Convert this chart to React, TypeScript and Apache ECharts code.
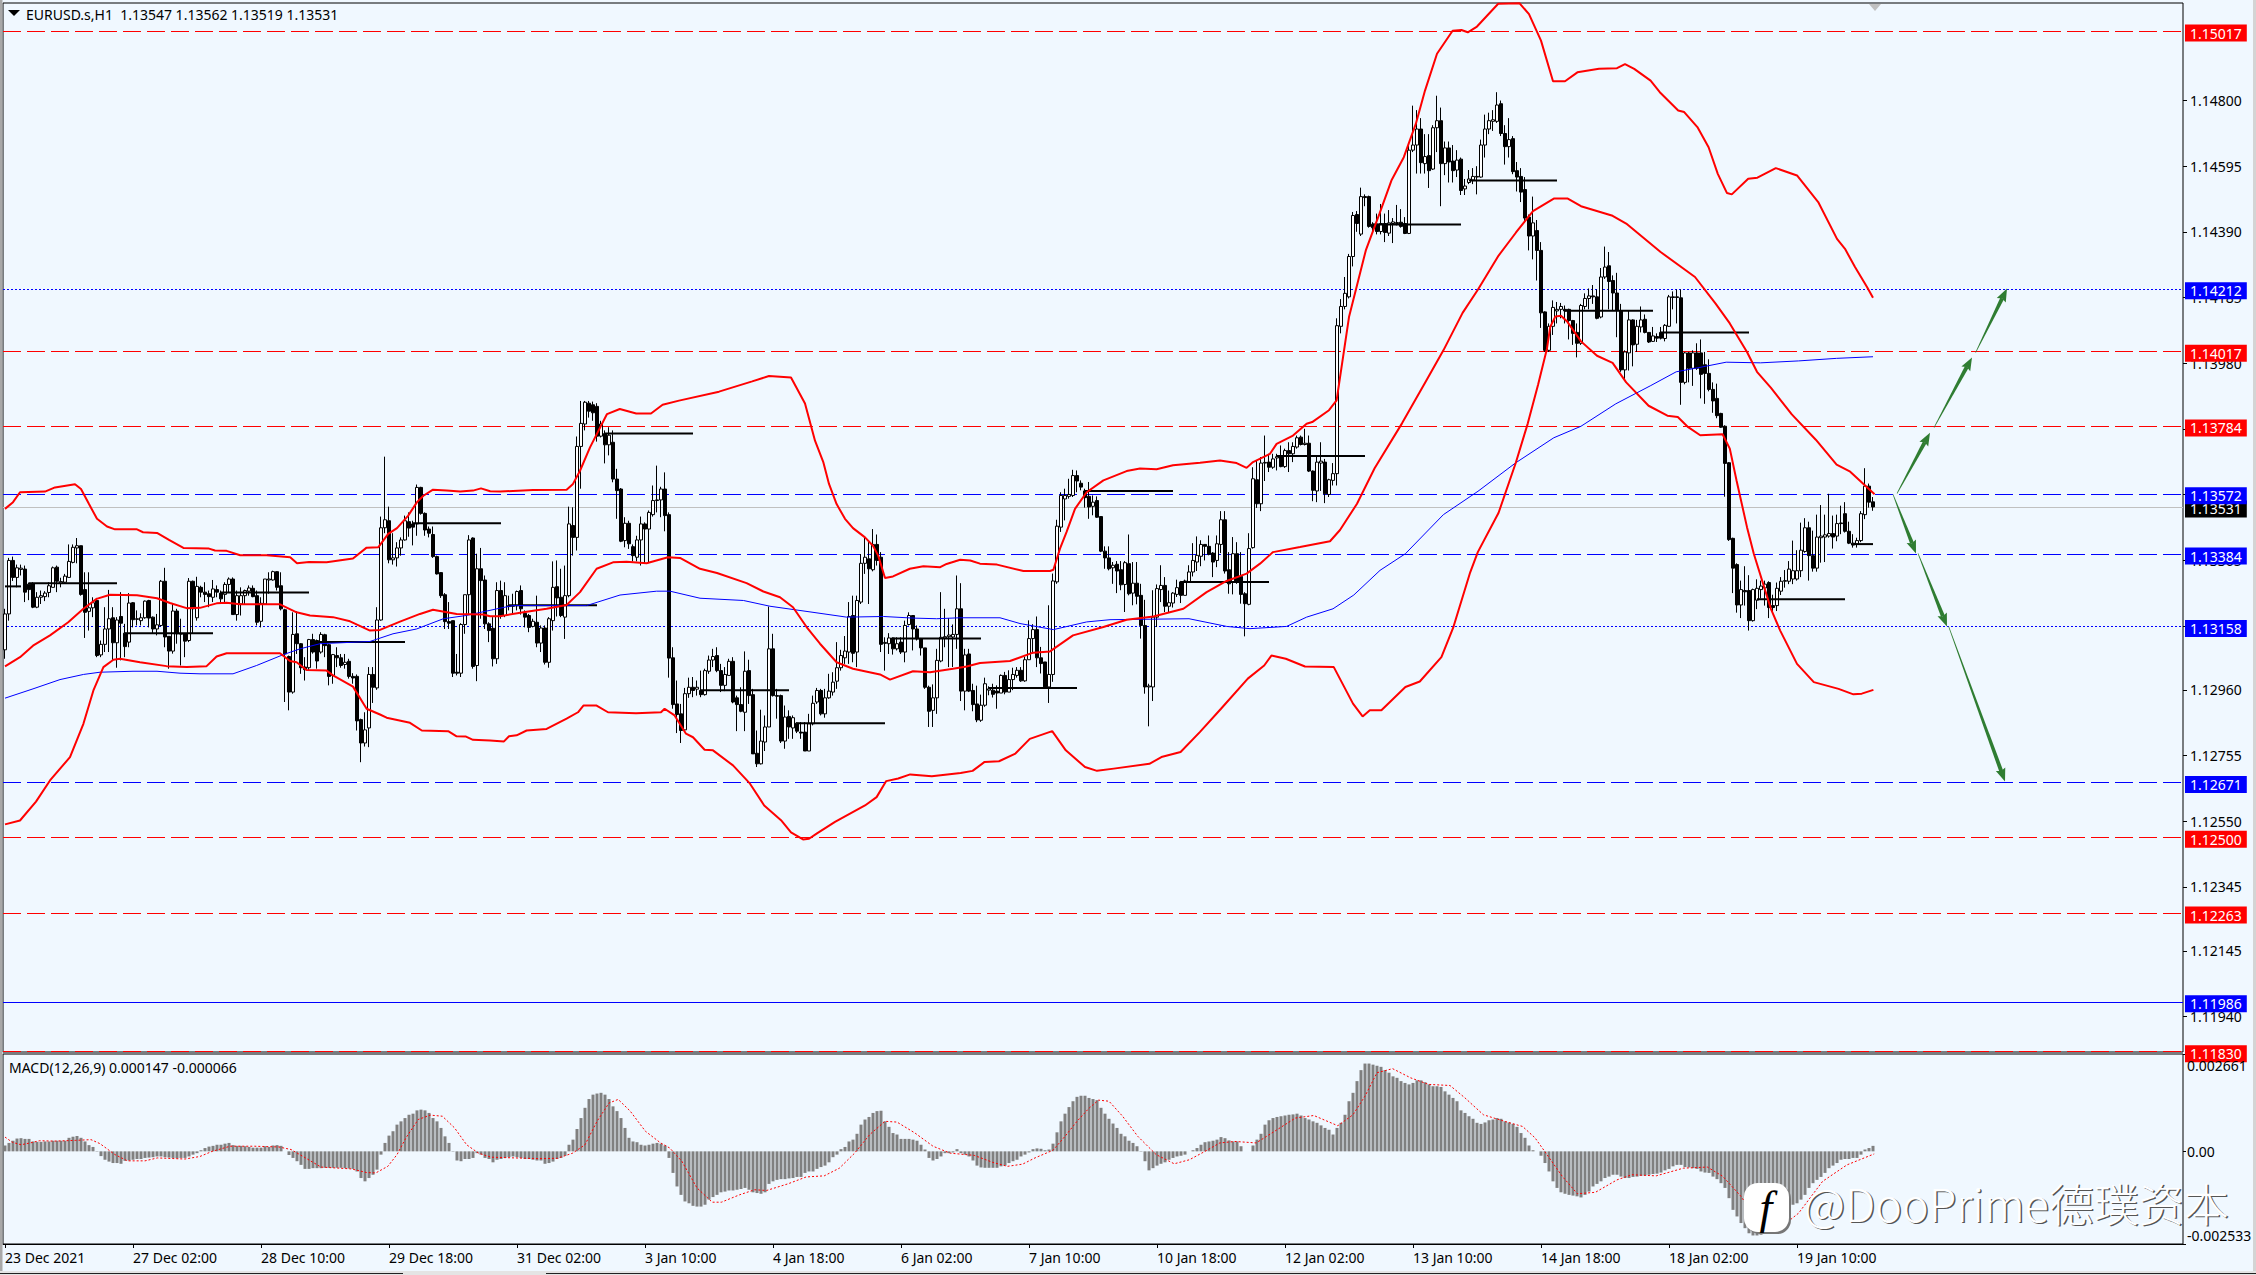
import React, { useEffect, useRef } from "react";
import * as echarts from "echarts";

const FONT = "Noto Sans";
const BG = "#F0F8FF";
const BASE = 1.1;
const UNIT = 0.00001;

const xTickLabels = ["23 Dec 2021","27 Dec 02:00","28 Dec 10:00","29 Dec 18:00","31 Dec 02:00","3 Jan 10:00","4 Jan 18:00","6 Jan 02:00","7 Jan 10:00","10 Jan 18:00","12 Jan 02:00","13 Jan 10:00","14 Jan 18:00","18 Jan 02:00","19 Jan 10:00"];
const priceTicks = [1.148,1.14595,1.1439,1.14185,1.1398,1.13775,1.1357,1.13365,1.1316,1.1296,1.12755,1.1255,1.12345,1.12145,1.1194];
const macdTicks = [0.002661,0,-0.002533];
const priceMin = 1.118292;
const priceMax = 1.151045;

// [open, close, low, high], in points above 1.10000
const candles = [
[3085,3197,3057,3213],[3197,3364,3176,3372],[3364,3311,3300,3376],[3311,3341,3280,3351],[3336,3340,3317,3351],[3337,3265,3234,3348],[3290,3273,3240,3295],[3291,3218,3215,3296],[3218,3249,3215,3265],[3249,3254,3228,3270],
[3251,3262,3237,3268],[3264,3285,3249,3296],[3280,3341,3280,3345],[3343,3299,3265,3348],[3293,3298,3280,3310],[3296,3315,3291,3322],[3311,3361,3311,3414],[3358,3405,3355,3414],[3403,3410,3355,3434],[3410,3258,3254,3410],
[3273,3202,3122,3327],[3205,3216,3145,3327],[3216,3232,3187,3249],[3239,3067,3062,3247],[3069,3102,3062,3114],[3102,3150,3078,3218],[3150,3182,3078,3272],[3185,3107,3052,3218],[3107,3178,3029,3187],[3189,3168,3052,3265],
[3137,3095,3062,3166],[3109,3231,3093,3262],[3232,3179,3155,3234],[3180,3182,3161,3208],[3176,3185,3161,3199],[3185,3237,3182,3239],[3239,3184,3155,3241],[3187,3150,3137,3189],[3150,3163,3130,3197],[3161,3299,3158,3303],
[3299,3125,3093,3341],[3127,3081,3026,3127],[3081,3206,3073,3228],[3206,3135,3104,3213],[3135,3134,3036,3182],[3135,3112,3062,3137],[3114,3299,3109,3309],[3299,3213,3135,3301],[3185,3283,3176,3313],[3280,3265,3249,3285],
[3265,3258,3234,3296],[3260,3251,3218,3270],[3249,3275,3234,3303],[3273,3265,3249,3286],[3262,3244,3228,3270],[3258,3289,3234,3296],[3289,3306,3265,3311],[3306,3195,3195,3311],[3195,3254,3176,3270],[3228,3254,3192,3280],
[3254,3270,3228,3273],[3268,3278,3254,3286],[3277,3251,3249,3286],[3254,3171,3161,3270],[3174,3230,3155,3249],[3228,3306,3228,3306],[3303,3306,3260,3327],[3303,3329,3301,3332],[3329,3280,3270,3330],[3285,3213,3208,3327],
[3210,3072,2922,3213],[3064,2953,2896,3067],[2953,3133,2948,3202],[3135,3104,3072,3205],[3104,3029,3010,3106],[3031,3023,2989,3062],[3029,3117,3020,3119],[3117,3078,3073,3135],[3114,3050,3026,3117],[3078,3133,3073,3140],
[3132,3098,3062,3135],[3101,3002,2974,3104],[3005,3070,2979,3072],[3067,3060,3031,3093],[3060,3036,3029,3072],[3039,3046,3026,3072],[3049,3002,2995,3057],[3002,2997,2979,3012],[3002,2863,2833,3008],[2867,2794,2734,2870],
[2794,2835,2783,2890],[2841,3008,2781,3031],[3008,2968,2919,3031],[2966,3178,2960,3218],[3178,3466,3176,3501],[3466,3491,3449,3688],[3488,3366,3355,3532],[3366,3372,3351,3449],[3372,3403,3345,3421],[3403,3428,3379,3436],
[3428,3488,3426,3504],[3485,3465,3438,3514],[3478,3468,3411,3488],[3478,3592,3441,3601],[3592,3511,3507,3594],[3511,3459,3441,3514],[3462,3449,3436,3470],[3445,3376,3372,3470],[3376,3322,3320,3379],[3326,3254,3247,3327],
[3257,3173,3150,3262],[3173,3168,3150,3234],[3176,3012,3000,3176],[3015,3012,3005,3072],[3012,3164,3000,3168],[3164,3257,3135,3257],[3257,3428,3197,3443],[3434,3033,3026,3436],[3036,3338,2987,3385],[3338,3301,3182,3403],
[3303,3166,3150,3317],[3166,3145,3109,3171],[3152,3057,3033,3187],[3057,3270,3041,3296],[3270,3192,3182,3301],[3192,3254,3187,3296],[3220,3223,3208,3254],[3223,3221,3197,3260],[3223,3267,3208,3270],[3270,3213,3195,3286],
[3199,3187,3155,3208],[3192,3155,3140,3197],[3158,3174,3155,3182],[3171,3106,3093,3254],[3106,3153,3078,3161],[3153,3046,3039,3161],[3046,3182,3029,3187],[3176,3280,3145,3361],[3282,3247,3189,3364],[3249,3192,3187,3338],
[3187,3254,3119,3348],[3254,3478,3249,3532],[3473,3436,3379,3530],[3436,3720,3395,3751],[3720,3792,3588,3862],[3790,3858,3770,3862],[3855,3830,3810,3862],[3850,3825,3800,3860],[3845,3752,3735,3855],[3752,3790,3748,3800],
[3760,3725,3667,3770],[3725,3755,3692,3780],[3733,3618,3608,3770],[3618,3582,3494,3650],[3587,3424,3421,3590],[3426,3480,3405,3499],[3480,3416,3400,3488],[3407,3379,3361,3414],[3374,3428,3361,3441],[3428,3478,3348,3501],
[3478,3462,3353,3483],[3462,3514,3358,3520],[3507,3551,3501,3598],[3551,3553,3514,3660],[3553,3587,3499,3594],[3587,3504,3455,3639],[3507,3059,2998,3514],[3060,2914,2901,3093],[2916,2883,2825,2989],[2885,2833,2794,2916],
[2835,2948,2831,2966],[2948,2968,2935,2998],[2968,2958,2937,3000],[2962,2968,2942,2989],[2958,2945,2937,3020],[2945,3020,2942,3026],[3018,3053,3010,3067],[3053,3064,3031,3088],[3067,3020,3015,3093],[3020,2974,2953,3041],
[2974,3008,2956,3031],[3005,3049,3005,3057],[3049,2922,2918,3062],[2935,2914,2831,2942],[2914,2893,2890,2968],[2890,3018,2831,3080],[3020,2942,2916,3054],[2945,2760,2760,2963],[2762,2729,2719,2833],[2729,2800,2727,2898],
[2797,2844,2769,2880],[2844,3088,2844,3220],[3088,2942,2939,3135],[2942,2940,2870,2963],[2942,2800,2794,2945],[2800,2875,2776,2911],[2877,2844,2807,2896],[2841,2873,2807,2880],[2856,2831,2825,2859],[2828,2825,2807,2859],
[2828,2769,2769,2859],[2769,2854,2769,2885],[2854,2918,2849,2942],[2922,2958,2916,2966],[2958,2885,2880,2963],[2885,2935,2873,2963],[2935,2956,2932,3010],[2953,2984,2942,3015],[2987,3029,2963,3109],[3029,3067,3020,3085],
[3060,3081,3041,3128],[3078,3189,3041,3234],[3192,3074,3046,3254],[3078,3239,3031,3254],[3234,3355,3228,3384],[3355,3374,3322,3438],[3369,3338,3228,3426],[3335,3414,3330,3462],[3414,3364,3348,3445],[3374,3102,3078,3390],
[3105,3108,3020,3124],[3104,3122,3072,3137],[3122,3088,3070,3124],[3088,3104,3083,3124],[3109,3078,3072,3124],[3078,3161,3046,3176],[3164,3192,3161,3202],[3192,3150,3083,3192],[3150,3119,3114,3161],[3119,3091,3067,3122],
[3091,2968,2963,3091],[2968,2893,2844,2973],[2896,2935,2844,2977],[2935,3052,2885,3088],[3050,3124,3046,3265],[3122,3126,3093,3213],[3126,3131,3031,3184],[3125,3133,3031,3164],[3133,3213,3088,3317],[3213,2956,2925,3293],
[2956,3069,2896,3088],[3072,2956,2953,3088],[2958,2914,2893,2979],[2916,2866,2859,2973],[2865,2912,2860,2945],[2912,2979,2907,2998],[2959,2963,2943,2971],[2959,2946,2936,2979],[2956,2950,2901,2974],[2950,3005,2950,3008],
[3005,2953,2946,3016],[2953,2992,2953,3021],[2992,3008,2959,3029],[3005,3021,2998,3031],[3021,2988,2985,3031],[2988,3054,2985,3063],[3054,3120,3054,3177],[3120,3148,3073,3165],[3148,3060,3031,3189],[3060,3042,3011,3094],
[3047,2969,2969,3047],[2969,3008,2919,3224],[3008,3300,2985,3323],[3297,3471,3291,3491],[3468,3567,3453,3577],[3556,3567,3489,3588],[3564,3570,3557,3619],[3567,3629,3562,3647],[3629,3612,3577,3645],[3605,3593,3583,3614],
[3581,3560,3529,3588],[3564,3531,3494,3609],[3533,3546,3505,3567],[3551,3499,3497,3564],[3501,3393,3390,3501],[3393,3372,3338,3408],[3372,3338,3333,3408],[3341,3349,3291,3359],[3352,3331,3262,3362],[3335,3288,3271,3362],
[3289,3357,3203,3362],[3354,3260,3255,3445],[3262,3293,3224,3359],[3293,3252,3227,3359],[3255,3161,3120,3291],[3161,2969,2948,3241],[2969,2972,2846,2979],[2969,3187,2925,3271],[3187,3276,3156,3289],[3273,3286,3234,3349],
[3286,3221,3203,3312],[3221,3232,3203,3270],[3231,3262,3217,3265],[3258,3279,3250,3304],[3297,3255,3231,3300],[3255,3300,3255,3304],[3297,3328,3297,3349],[3328,3364,3314,3418],[3359,3380,3331,3439],[3377,3414,3346,3427],
[3414,3408,3364,3414],[3408,3383,3380,3442],[3387,3359,3312,3390],[3364,3416,3343,3442],[3414,3491,3387,3518],[3491,3331,3323,3518],[3335,3291,3260,3390],[3297,3385,3258,3437],[3385,3297,3291,3421],[3314,3258,3229,3390],
[3260,3229,3127,3265],[3227,3401,3224,3449],[3404,3619,3401,3655],[3616,3541,3528,3676],[3541,3668,3518,3687],[3668,3670,3612,3754],[3671,3655,3640,3697],[3655,3681,3650,3697],[3684,3688,3645,3697],[3687,3657,3655,3723],
[3657,3707,3653,3713],[3707,3697,3640,3733],[3697,3720,3671,3733],[3718,3747,3713,3754],[3749,3726,3723,3754],[3726,3730,3723,3775],[3730,3643,3640,3754],[3643,3583,3549,3645],[3581,3671,3546,3687],[3668,3674,3581,3733],
[3671,3572,3543,3681],[3570,3616,3562,3619],[3614,3635,3598,3668],[3635,4097,3598,4120],[4095,4157,4073,4180],[4157,4198,4148,4249],[4187,4313,4182,4321],[4313,4441,4282,4452],[4444,4416,4390,4455],[4383,4500,4377,4528],
[4500,4497,4470,4507],[4500,4407,4403,4503],[4414,4403,4388,4420],[4414,4391,4382,4447],[4391,4416,4382,4477],[4416,4388,4358,4447],[4386,4418,4377,4458],[4416,4421,4355,4433],[4416,4419,4410,4474],[4420,4407,4403,4461],
[4416,4385,4383,4436],[4385,4645,4383,4659],[4645,4661,4639,4784],[4661,4711,4572,4770],[4711,4606,4572,4745],[4603,4625,4572,4695],[4628,4581,4527,4695],[4586,4715,4583,4723],[4715,4737,4639,4815],[4737,4603,4470,4778],
[4603,4652,4567,4672],[4652,4608,4544,4672],[4611,4581,4544,4661],[4583,4614,4561,4645],[4617,4519,4505,4622],[4524,4533,4505,4555],[4544,4555,4539,4583],[4552,4563,4539,4589],[4563,4561,4507,4595],[4561,4661,4559,4678],
[4661,4711,4622,4756],[4711,4737,4695,4762],[4735,4740,4705,4770],[4735,4786,4730,4826],[4790,4697,4689,4800],[4697,4656,4600,4723],[4656,4678,4622,4745],[4681,4578,4570,4689],[4581,4561,4516,4608],[4563,4514,4483,4589],
[4522,4433,4418,4561],[4436,4377,4332,4444],[4377,4418,4304,4500],[4394,4332,4238,4427],[4332,4137,4090,4358],[4140,4020,4015,4142],[4020,4095,4015,4104],[4095,4154,4068,4176],[4143,4148,4104,4171],[4148,4157,4120,4168],
[4148,4143,4104,4160],[4148,4113,4054,4150],[4113,4073,4037,4115],[4076,4042,3998,4104],[4042,4160,4037,4165],[4157,4182,4148,4198],[4182,4190,4148,4213],[4190,4187,4165,4224],[4187,4120,4117,4210],[4124,4249,4120,4277],
[4249,4280,4243,4344],[4284,4235,4148,4327],[4238,4199,4143,4254],[4199,4146,4061,4262],[4143,3959,3953,4165],[3959,4015,3925,4020],[4012,4115,3957,4143],[4115,4037,3970,4117],[4039,4095,4015,4115],[4093,4115,4076,4157],
[4117,4076,4073,4132],[4076,4046,4043,4076],[4048,4065,4046,4093],[4063,4058,4046,4073],[4076,4058,4054,4093],[4057,4098,4048,4102],[4095,4187,4093,4193],[4187,4185,4148,4204],[4187,4185,4104,4210],[4184,3920,3850,4210],
[3920,4012,3914,4015],[4012,3964,3920,4015],[3964,4012,3909,4020],[4012,3964,3959,4042],[4012,3945,3870,4054],[3975,3948,3853,4015],[3948,3898,3892,3992],[3898,3862,3825,3920],[3870,3816,3808,3916],[3823,3780,3778,3825],
[3783,3667,3563,3786],[3669,3429,3425,3671],[3433,3340,3262,3435],[3351,3225,3201,3355],[3225,3273,3184,3301],[3270,3266,3223,3346],[3270,3176,3145,3318],[3176,3273,3173,3276],[3240,3277,3212,3305],[3273,3284,3245,3301],
[3278,3290,3223,3301],[3295,3217,3184,3299],[3223,3217,3200,3257],[3223,3277,3206,3295],[3268,3299,3256,3312],[3299,3301,3279,3334],[3299,3337,3290,3362],[3306,3332,3290,3426],[3306,3332,3301,3396],[3332,3396,3312,3482],
[3392,3466,3388,3496],[3466,3379,3301,3485],[3379,3340,3329,3457],[3340,3437,3329,3507],[3435,3440,3357,3537],[3437,3444,3359,3507],[3440,3448,3435,3572],[3448,3437,3401,3504],[3440,3479,3424,3507],[3481,3479,3446,3535],
[3510,3455,3451,3546],[3455,3418,3415,3485],[3418,3412,3404,3446],[3415,3426,3404,3435],[3426,3510,3421,3518],[3507,3596,3493,3652],[3596,3546,3529,3604],[3547,3531,3519,3562],
];

// Bollinger upper: [bar, points above 1.10000]
const bandUpper = [[0,3525],[2,3546],[3.75,3577],[10,3579],[12.5,3592],[17.5,3602],[19,3587],[21,3540],[23,3494],[25.5,3470],[27.5,3461],[33,3461],[34.5,3452],[38,3450],[41,3428],[44.6,3403],[51,3401],[52.5,3395],[55.4,3394],[58.8,3380],[65.4,3380],[71.3,3374],[73,3355],[76,3359],[80.4,3358],[87,3370],[90.4,3404],[93.3,3405],[95.8,3447],[98,3465],[100.8,3504],[103,3546],[104.6,3566],[107,3585],[110.4,3582],[113.8,3579],[117,3582],[119,3589],[121.3,3580],[123.8,3579],[132,3584],[140.4,3585],[142,3603],[143.75,3644],[146.25,3717],[150.5,3821],[153.7,3837],[157.8,3823],[161.5,3823],[164.4,3850],[168.5,3863],[178.5,3891],[186.8,3923],[191,3940],[196.5,3935],[200,3854],[202.5,3738],[204.6,3670],[206,3603],[207.9,3540],[210,3494],[212,3465],[215,3436],[217,3410],[218.3,3379],[220,3309],[222,3314],[226.2,3338],[229.6,3346],[233.8,3343],[235.4,3353],[238.8,3366],[241.3,3364],[243.75,3354],[248,3351],[254.6,3331],[261.25,3331],[262.1,3335],[263.75,3401],[265.4,3453],[267.5,3525],[270.4,3577],[274.6,3614],[280.4,3643],[283.75,3651],[287.9,3649],[292,3661],[298.75,3669],[303.75,3676],[307.9,3668],[310.4,3653],[312,3671],[316.25,3697],[317.9,3728],[322,3754],[325.4,3791],[326.8,3796],[331,3833],[332.9,3864],[336,4124],[340.2,4332],[343.6,4446],[346.6,4550],[349.7,4623],[352.7,4727],[355,4831],[358,4946],[361.9,5018],[364.1,5020],[365.7,5013],[368,5031],[373.3,5102],[378.6,5104],[381,5070],[384,4987],[387,4860],[390,4860],[393.1,4888],[398.5,4899],[403,4901],[405,4914],[407.3,4899],[411.4,4862],[413.7,4826],[418.3,4769],[419.8,4764],[423.1,4717],[425.9,4654],[428.2,4571],[430.5,4511],[431.7,4507],[435.8,4556],[438.1,4559],[442.7,4589],[448,4566],[453.3,4483],[458,4368],[460,4337],[462.5,4280],[465.5,4218],[467,4184]];

const bandMiddle = [[0,3033],[3.75,3062],[7,3098],[11.25,3130],[15.8,3171],[19.6,3213],[22.9,3244],[26.25,3257],[33,3255],[38,3246],[41.25,3231],[45.4,3215],[48.75,3216],[52.9,3230],[55.4,3232],[58.75,3227],[68.75,3227],[72.9,3202],[76.25,3192],[82,3187],[86.25,3174],[91.25,3145],[93.75,3147],[98.75,3173],[103.75,3197],[107,3210],[112.9,3197],[119.6,3195],[121.25,3190],[123.75,3190],[129.6,3202],[135.4,3213],[140.4,3225],[143.75,3265],[147.9,3338],[152,3358],[155.4,3360],[160.4,3355],[165.75,3374],[168.75,3372],[173.75,3338],[178,3325],[185.4,3293],[189.6,3267],[193.75,3249],[197,3218],[200.4,3156],[203.75,3104],[207.9,3046],[212,3026],[218.75,3008],[221.25,2992],[227,3018],[231.25,3015],[237,3026],[240.4,3033],[243.75,3044],[251.25,3050],[257,3076],[261.25,3080],[267,3130],[274.6,3156],[280.4,3179],[287.1,3189],[294.6,3213],[300.4,3265],[305.4,3300],[310.4,3323],[313.75,3354],[317,3390],[323.75,3406],[331.25,3424],[333.75,3459],[338,3541],[342.4,3652],[349.25,3792],[355.3,3925],[359.6,4020],[364.4,4137],[368.25,4210],[373.4,4316],[377.75,4388],[382,4455],[387.2,4494],[390.7,4494],[394,4470],[401.9,4440],[405.3,4416],[413.9,4327],[422.5,4249],[427.7,4165],[431.2,4104],[435.5,4015],[438,3953],[441.5,3903],[446.7,3820],[452.7,3741],[457.9,3663],[461.3,3641],[467.4,3571]];

const bandLower = [[0,2540],[3.75,2552],[7.75,2611],[11.25,2677],[16.25,2750],[19.6,2854],[22.1,2958],[24.6,3031],[27.1,3054],[28.75,3057],[33.75,3046],[40.4,3034],[45.4,3031],[50.4,3034],[52.9,3064],[55.4,3074],[68.75,3074],[71.25,3050],[72.9,3046],[75.4,3022],[80.4,3020],[82,3005],[87,2970],[90.4,2901],[93.75,2883],[95.4,2873],[101.25,2857],[104.2,2833],[110.8,2831],[112.9,2815],[115.25,2814],[117,2804],[121.25,2802],[124.75,2799],[126,2815],[127.9,2818],[130.4,2833],[135.4,2838],[140.4,2870],[143.25,2890],[144.6,2911],[147.9,2911],[150.75,2890],[157.75,2887],[164,2890],[164.9,2901],[167.4,2880],[170.25,2823],[172,2812],[174.9,2773],[177,2771],[182,2724],[186.25,2667],[189.8,2599],[194,2553],[196.5,2515],[199.5,2493],[201,2495],[203,2512],[207.5,2548],[215,2599],[217.9,2625],[220.3,2675],[223.3,2683],[226.3,2696],[231.7,2690],[238.9,2700],[241.9,2707],[244.9,2735],[248.5,2737],[252.6,2761],[256.2,2807],[261.8,2831],[265.2,2771],[270,2719],[273,2707],[277.2,2714],[286.1,2729],[289.1,2750],[293.9,2766],[298.7,2828],[304,2901],[310.7,2995],[314.8,3036],[316.6,3067],[320.2,3057],[325,3033],[332.2,3031],[337,2917],[339.4,2877],[341.2,2896],[344.1,2896],[350.1,2969],[353.7,2986],[359.1,3062],[362.1,3156],[366.3,3327],[368.2,3390],[373.4,3513],[377.7,3669],[380.7,3792],[383.3,3914],[385.5,4026],[386.3,4093],[387.6,4126],[389,4128],[390.6,4109],[394,4048],[398,4003],[401.9,3981],[405.3,3920],[410.9,3847],[415.6,3816],[418.2,3812],[420.8,3780],[423.8,3755],[429.4,3758],[431.2,3713],[432.9,3613],[435.5,3468],[437.2,3385],[441.5,3212],[443.8,3145],[448,3041],[452.2,2984],[458.4,2963],[462.1,2946],[464.2,2948],[467.1,2960]];

const movingAverage = [[0,2934],[7,2963],[13.75,2992],[19.6,3008],[23.75,3015],[32,3018],[38,3018],[43.75,3012],[48.75,3010],[57,3010],[62.9,3036],[69.6,3070],[73.75,3088],[78.75,3104],[91.25,3111],[97,3135],[102.9,3150],[109.6,3182],[115.25,3192],[123.75,3215],[127,3223],[145.4,3223],[153.75,3256],[162.9,3268],[166.25,3268],[173.75,3246],[184.6,3239],[191.25,3221],[202,3202],[210.4,3187],[219.6,3189],[227,3184],[232.9,3182],[238.75,3185],[248.75,3185],[253.75,3167],[262.1,3148],[270.4,3172],[276.25,3179],[296,3182],[305.4,3158],[311.25,3151],[320.4,3158],[325.4,3187],[332,3213],[337.2,3256],[343.75,3333],[350.1,3385],[359.6,3507],[368.25,3580],[377.7,3669],[387.2,3747],[394,3783],[402.7,3853],[411.3,3909],[417.8,3953],[424.25,3968],[430.3,3983],[438.9,3981],[448.4,3987],[457.9,3995],[467,4000]];

// Daily level segments: [first bar, last bar, points above 1.10000]
const dayLevels = [[0,4,3283],[6,28,3293],[30,52,3137],[54,76,3264],[78,100,3109],[102,124,3480],[126,148,3224],[150,172,3760],[174,196,2959],[198,220,2856],[222,244,3120],[246,268,2966],[270,292,3581],[294,316,3297],[318,340,3690],[342,364,4413],[366,388,4550],[390,412,4144],[414,436,4076],[438,460,3243],[462,467,3415]];

// Green forecast arrows: [bar, points, bar, points]
const arrows = [[473,3573,481.25,3763],[482.25,3779,491.75,3998],[492.65,4013,500.5,4213],[472,3570,477.75,3386],[478.25,3386,485.5,3158],[485.9,3158,500,2674]];

const redDashed = [1.15017,1.14017,1.13784,1.125,1.12263,1.1183];
const blueDashed = [1.13572,1.13384,1.12671];
const blueDotted = [1.14212,1.13158];
const blueSolid = [1.11986];
const lastPrice = [1.13531];

// MACD histogram, in units of 0.00001
const macdBars = [
16,23,29,35,36,34,34,27,26,26,27,27,29,29,29,29,37,40,42,37,27,17,12,-1,-13,-23,-28,-32,-32,-34,
-26,-25,-23,-21,-21,-18,-17,-16,-14,-14,-16,-17,-18,-19,-18,-18,-14,-9,-5,3,9,13,15,18,18,21,23,17,15,15,
14,12,10,10,10,14,12,16,17,15,0,-10,-18,-27,-37,-48,-48,-46,-46,-46,-45,-45,-45,-45,-45,-46,-47,-48,-55,-73,
-82,-73,-64,-50,-9,23,43,55,73,82,91,100,103,112,114,112,105,91,82,64,41,23,-1,-25,-27,-21,-21,-18,-5,-9,
-18,-21,-30,-23,-21,-18,-16,-14,-16,-18,-21,-21,-23,-25,-25,-34,-32,-28,-21,-18,-12,18,32,61,91,119,143,155,158,160,
155,143,123,110,91,64,37,27,25,18,16,18,21,23,21,16,-18,-59,-96,-119,-137,-142,-149,-151,-151,-146,-132,-125,-119,-112,
-110,-107,-107,-105,-103,-100,-105,-112,-114,-116,-112,-89,-82,-78,-76,-76,-74,-73,-70,-70,-59,-55,-55,-48,-43,-39,-30,-16,-9,6,
12,27,32,48,73,87,94,105,110,111,82,67,50,46,34,34,34,32,29,18,5,-18,-25,-21,-14,-5,-5,-3,6,-5,
-9,-14,-25,-39,-44,-45,-45,-45,-45,-41,-39,-32,-27,-23,-14,-9,-3,6,8,7,3,5,21,52,82,103,121,137,149,152,
152,146,143,140,119,103,89,76,64,48,41,29,23,14,-1,-27,-52,-46,-39,-34,-30,-23,-18,-14,-12,-9,0,3,9,18,
25,27,29,32,39,36,30,27,27,14,0,0,16,32,48,73,85,91,94,96,98,100,101,103,98,91,87,82,78,71,
64,59,46,64,78,100,137,160,192,222,240,240,237,234,231,222,215,205,201,192,187,183,187,194,194,189,183,178,178,176,
164,155,146,137,112,105,96,89,78,75,79,85,87,91,89,82,79,75,67,50,37,16,3,0,-12,-32,-55,-82,-100,-112,
-116,-119,-121,-123,-126,-119,-110,-96,-89,-82,-73,-69,-64,-64,-69,-73,-73,-70,-69,-67,-66,-64,-62,-61,-58,-52,-48,-41,-37,-37,
-43,-44,-46,-48,-55,-58,-59,-69,-76,-87,-100,-128,-160,-178,-196,-210,-224,-230,-230,-228,-224,-215,-201,-187,-173,-160,-155,-146,-142,-132,
-119,-100,-87,-78,-70,-59,-46,-39,-32,-23,-21,-21,-18,-18,-9,5,9,15,
];

const macdSignal = [[0,39],[1.8,25],[4,18],[6.3,23],[8.6,29],[12.4,28],[17.7,30],[21.5,32],[23.75,21],[27.5,-9],[30.6,-26],[35,-26],[38.1,-18],[45,-21],[48.75,-14],[51.8,0],[56.3,14],[62.4,14],[68.45,12],[71.5,5],[74.5,-14],[79,-43],[86.6,-48],[90.4,-58],[92.7,-59],[95.7,-41],[98,-9],[100.25,37],[103.3,87],[106.3,99],[109.35,96],[112.4,64],[115.4,18],[118.4,-5],[121.5,-16],[127.5,-18],[133.6,-20],[138.1,-19],[141.9,-5],[145,18],[148,82],[151,132],[153.3,142],[156.3,110],[160.1,55],[163.9,23],[166.2,9],[169.2,-27],[173,-100],[176.8,-139],[179.1,-139],[183.6,-119],[187.4,-105],[190.4,-107],[195.7,-89],[200.3,-70],[204.8,-67],[208.6,-46],[212.4,-5],[216.2,46],[220,82],[223,80],[227.5,50],[232,14],[236.3,-5],[242.3,-11],[246.9,-30],[250.6,-41],[254.4,-35],[257.5,-18],[262,3],[265,41],[268,82],[271.1,119],[273.4,140],[276,137],[279.4,96],[283.2,41],[287.8,-9],[292.3,-34],[296.1,-23],[300,0],[303.7,23],[307.5,27],[312.8,23],[318,59],[322.6,91],[327.2,98],[333.2,70],[337,100],[340,151],[343,215],[346.9,226],[351.4,201],[355.9,183],[361.25,180],[365,146],[369.6,100],[374.9,82],[379.4,68],[382.5,37],[385.5,-9],[389.3,-68],[393.1,-116],[397.6,-112],[403,-78],[406.7,-64],[412.8,-67],[419.6,-46],[425.6,-43],[429.4,-68],[434,-123],[439.3,-210],[443.1,-215],[448.4,-169],[454.4,-82],[460.5,-37],[467.3,-7]];

const SLOTS = 545;
const toPrice = (p: number) => BASE + p * UNIT;
const categories = Array.from({ length: SLOTS }, (_, i) => (i % 32 === 0 && i / 32 < xTickLabels.length ? xTickLabels[i / 32] : " "));
const isTick = (i: number) => i % 32 === 0 && i / 32 < xTickLabels.length;

const levelLine = (value: number, lineColor: string, type: any, boxColor: string) => ({
  yAxis: value,
  lineStyle: { color: lineColor, width: 1, type, opacity: 1 },
  label: {
    show: true,
    position: "end",
    distance: 2,
    offset: [0, 2],
    formatter: value.toFixed(5),
    color: "#fff",
    backgroundColor: boxColor,
    fontFamily: FONT,
    fontSize: 14,
    padding: [1, 5, 0, 5],
    lineHeight: 16,
  },
});

const bandSeries = (name: string, data: number[][], color: string, width: number, z: number) => ({
  name,
  type: "line",
  xAxisIndex: 1,
  yAxisIndex: 0,
  data: data.map(([i, p]) => [i, toPrice(p)]),
  showSymbol: false,
  symbol: "none",
  lineStyle: { color, width },
  z,
  silent: true,
});

export default function App() {
  const ref = useRef<HTMLDivElement>(null);
  useEffect(() => {
    const chart = echarts.init(ref.current!, null, { renderer: "svg" });
    const hiddenX = (gridIndex: number) => ({ type: "value", gridIndex, min: -0.5, max: SLOTS - 0.5, show: false });
    const wm = "@DooPrime德璞资本";
    const wmStyle = { fontFamily: "Noto Sans CJK SC", fontSize: 45, fontWeight: 300 };
    const scaleText = { fill: "#000", fontFamily: FONT, fontSize: 14, verticalAlign: "middle" };
    chart.setOption({
      animation: false,
      backgroundColor: BG,
      textStyle: { fontFamily: FONT },
      grid: [
        { left: 3, top: 3, width: 2180, height: 1049, show: true, borderColor: "#000", borderWidth: 1, backgroundColor: "transparent" },
        { left: 3, top: 1054, width: 2180, height: 190, show: true, borderColor: "#000", borderWidth: 1, backgroundColor: "transparent" },
      ],
      xAxis: [
        { type: "category", gridIndex: 0, data: categories, show: false },
        hiddenX(0),
        {
          type: "category",
          gridIndex: 1,
          data: categories,
          position: "bottom",
          axisLine: { onZero: false, lineStyle: { color: "#000" } },
          axisTick: { show: true, length: 4, alignWithLabel: true, interval: isTick as any, lineStyle: { color: "#000" } },
          axisLabel: { interval: isTick as any, align: "left", margin: 6, color: "#000", fontFamily: FONT, fontSize: 14, hideOverlap: false },
        },
        hiddenX(1),
      ],
      yAxis: [
        {
          type: "value",
          gridIndex: 0,
          position: "right",
          min: priceMin,
          max: priceMax,
          splitLine: { show: false },
          axisLine: { show: false, onZero: false },
          axisTick: { show: true, length: 4, customValues: priceTicks, lineStyle: { color: "#000" } },
          axisLabel: { customValues: priceTicks, formatter: (v: number) => v.toFixed(5), margin: 7, color: "#000", fontFamily: FONT, fontSize: 14 },
        },
        {
          type: "value",
          gridIndex: 1,
          position: "right",
          min: macdTicks[2],
          max: macdTicks[0],
          splitLine: { show: false },
          axisLine: { show: false, onZero: false },
          axisTick: { show: true, length: 3, customValues: macdTicks, lineStyle: { color: "#000" } },
          axisLabel: {
            customValues: [macdTicks[1]],
            formatter: () => "0.00",
            margin: 4,
            color: "#000",
            fontFamily: FONT,
            fontSize: 14,
          },
        },
      ],
      series: [
        {
          name: "EURUSD.s,H1",
          type: "candlestick",
          xAxisIndex: 0,
          yAxisIndex: 0,
          data: candles.map((c) => c.map(toPrice)),
          barWidth: 3,
          itemStyle: { color: "#fff", color0: "#000", borderColor: "#000", borderColor0: "#000", borderWidth: 1 },
          z: 2,
          silent: true,
          markLine: {
            silent: true,
            symbol: "none",
            animation: false,
            z: 1,
            precision: 5,
            data: [
              ...lastPrice.map((v) => levelLine(v, "#c0c0c0", "solid", "#000")),
              ...redDashed.map((v) => levelLine(v, "#ff0000", [18, 6], "#ff0000")),
              ...blueDashed.map((v) => levelLine(v, "#0000ff", [18, 6], "#0000ff")),
              ...blueDotted.map((v) => levelLine(v, "#0000ff", [2, 2], "#0000ff")),
              ...blueSolid.map((v) => levelLine(v, "#0000ff", "solid", "#0000ff")),
            ],
          },
        },
        {
          name: "Day levels",
          type: "custom",
          xAxisIndex: 1,
          yAxisIndex: 0,
          z: 3,
          silent: true,
          encode: { x: [0, 1], y: 2 },
          data: dayLevels.map(([a, b, p]) => [a, b, toPrice(p)]),
          renderItem: (_: any, api: any) => {
            const s = api.coord([api.value(0), api.value(2)]);
            const e = api.coord([api.value(1), api.value(2)]);
            return { type: "line", shape: { x1: s[0], y1: s[1], x2: e[0], y2: e[1] }, style: { stroke: "#000", lineWidth: 2 } };
          },
        },
        bandSeries("MA", movingAverage, "#0000ff", 1, 4),
        bandSeries("BB upper", bandUpper, "#ff0000", 2, 5),
        bandSeries("BB middle", bandMiddle, "#ff0000", 2, 5),
        bandSeries("BB lower", bandLower, "#ff0000", 2, 5),
        {
          name: "Forecast",
          type: "custom",
          xAxisIndex: 1,
          yAxisIndex: 0,
          z: 6,
          silent: true,
          encode: { x: [0, 2], y: [1, 3] },
          data: arrows.map(([a, p, b, q]) => [a, toPrice(p), b, toPrice(q)]),
          renderItem: (_: any, api: any) => {
            const s = api.coord([api.value(0), api.value(1)]);
            const e = api.coord([api.value(2), api.value(3)]);
            const dx = e[0] - s[0];
            const dy = e[1] - s[1];
            const len = Math.hypot(dx, dy);
            const ux = dx / len;
            const uy = dy / len;
            const nx = -uy;
            const ny = ux;
            const b = [e[0] - ux * 11, e[1] - uy * 11];
            const fill = { fill: "#2f7d32", stroke: null };
            return {
              type: "group",
              children: [
                {
                  type: "polygon",
                  shape: { points: [[s[0] + nx * 0.3, s[1] + ny * 0.3], [s[0] - nx * 0.3, s[1] - ny * 0.3], [b[0] - nx * 2, b[1] - ny * 2], [b[0] + nx * 2, b[1] + ny * 2]] },
                  style: fill,
                },
                {
                  type: "polygon",
                  shape: { points: [[e[0], e[1]], [b[0] - ux * 2 + nx * 5, b[1] - uy * 2 + ny * 5], [b[0], b[1]], [b[0] - ux * 2 - nx * 5, b[1] - uy * 2 - ny * 5]] },
                  style: fill,
                },
              ],
            };
          },
        },
        {
          name: "MACD",
          type: "bar",
          xAxisIndex: 2,
          yAxisIndex: 1,
          data: macdBars.map((v) => v * UNIT),
          barWidth: 3,
          itemStyle: { color: "#808080" },
          silent: true,
          z: 2,
        },
        {
          name: "Signal",
          type: "line",
          xAxisIndex: 3,
          yAxisIndex: 1,
          data: macdSignal.map(([i, v]) => [i, v * UNIT]),
          symbol: "none",
          showSymbol: false,
          lineStyle: { color: "#ff0000", width: 1, type: [2, 2] },
          silent: true,
          z: 3,
        },
      ],
      graphic: [
        { type: "rect", z: 50, shape: { x: 0, y: 0, width: 2.5, height: 1275 }, style: { fill: "#a8a8a8" } },
        { type: "rect", z: 50, shape: { x: 2253, y: 0, width: 3, height: 1275 }, style: { fill: "#d4d4d4" } },
        { type: "rect", z: 50, shape: { x: 0, y: 1271, width: 2256, height: 4 }, style: { fill: "#e4e4e4" } },
        { type: "rect", z: 51, shape: { x: 0, y: 1273, width: 403, height: 1 }, style: { fill: "#222" } },
        { type: "rect", z: 51, shape: { x: 546, y: 1273, width: 1710, height: 1 }, style: { fill: "#222" } },
        { type: "polygon", z: 50, shape: { points: [[8, 10], [20, 10], [14, 16]] }, style: { fill: "#000" } },
        { type: "polygon", z: 50, shape: { points: [[1869, 4], [1881, 4], [1875, 11]] }, style: { fill: "#c0c0c0" } },
        { type: "text", z: 50, x: 26, y: 14, style: { text: "EURUSD.s,H1  1.13547 1.13562 1.13519 1.13531", fill: "#000", fontFamily: FONT, fontSize: 14, verticalAlign: "middle" } },
        { type: "text", z: 50, x: 9, y: 1067, style: { text: "MACD(12,26,9) 0.000147 -0.000066", fill: "#000", fontFamily: FONT, fontSize: 14, verticalAlign: "middle" } },
        { type: "text", z: 50, x: 2187, y: 1065, style: { text: macdTicks[0].toFixed(6), ...scaleText } },
        { type: "text", z: 50, x: 2187, y: 1235, style: { text: macdTicks[2].toFixed(6), ...scaleText } },
        { type: "rect", z: 60, shape: { x: 1746, y: 1185, width: 45, height: 49, r: 14 }, style: { fill: "#777" } },
        { type: "rect", z: 61, shape: { x: 1744, y: 1183, width: 45, height: 49, r: 14 }, style: { fill: "#fff" } },
        { type: "text", z: 62, x: 1766, y: 1207, style: { text: "f", fill: "#000", fontFamily: "Liberation Serif", fontStyle: "italic", fontSize: 46, align: "center", verticalAlign: "middle" } },
        { type: "text", z: 60, x: 1805.5, y: 1203.5, style: { text: wm, fill: "#555", ...wmStyle, verticalAlign: "middle" } },
        { type: "text", z: 61, x: 1804, y: 1202, style: { text: wm, fill: "#fff", ...wmStyle, verticalAlign: "middle" } },
      ],
    });
    return () => chart.dispose();
  }, []);
  return <div ref={ref} style={{ position: "fixed", left: 0, top: 0, width: 2256, height: 1275 }} />;
}
